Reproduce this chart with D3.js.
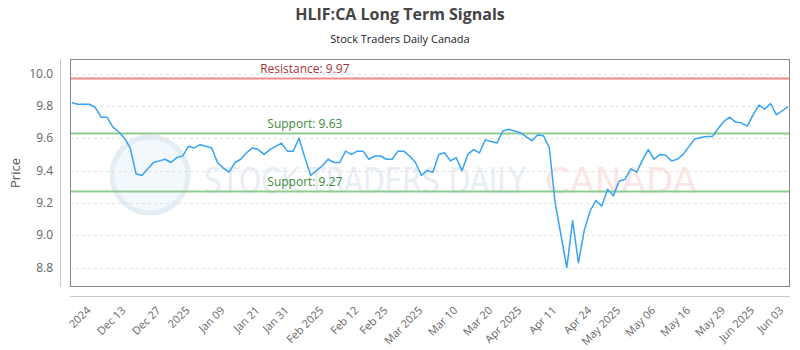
<!DOCTYPE html>
<html>
<head>
<meta charset="utf-8">
<script src="https://cdn.jsdelivr.net/npm/d3@7"></script>
<style>
  body { margin: 0; background: #fff; }
  svg { display: block; font-family: 'Open Sans', 'Noto Sans', sans-serif; }
</style>
</head>
<body>
<svg id="chart" width="800" height="350"></svg>
<script>
// daily closes
const prices = [
  9.82, 9.81, 9.81, 9.81, 9.79, 9.73, 9.73, 9.67, 9.64, 9.60,
  9.54, 9.38, 9.37, 9.41, 9.45, 9.46, 9.47, 9.45, 9.48, 9.49,
  9.55, 9.54, 9.56, 9.55, 9.54, 9.45, 9.415, 9.39, 9.45, 9.47,
  9.51, 9.54, 9.53, 9.50, 9.53, 9.55, 9.57, 9.52, 9.52, 9.60,
  9.48, 9.37, 9.40, 9.43, 9.47, 9.45, 9.45, 9.52, 9.50, 9.52,
  9.52, 9.47, 9.49, 9.49, 9.47, 9.47, 9.52, 9.52, 9.49, 9.45,
  9.37, 9.40, 9.39, 9.50, 9.51, 9.46, 9.48, 9.40, 9.50, 9.53,
  9.51, 9.59, 9.58, 9.57, 9.645, 9.655, 9.645, 9.635, 9.61, 9.585,
  9.62, 9.615, 9.54, 9.20, 9.00, 8.80, 9.09, 8.83, 9.03, 9.15,
  9.215, 9.18, 9.285, 9.245, 9.335, 9.345, 9.41, 9.39, 9.465, 9.53,
  9.47, 9.50, 9.495, 9.46, 9.47, 9.50, 9.55, 9.595, 9.605, 9.61,
  9.61, 9.66, 9.705, 9.73, 9.70, 9.695, 9.675, 9.745, 9.805, 9.78,
  9.815, 9.745, 9.77, 9.795
];

const tickIndex = [3, 9, 15, 20, 26, 32, 37, 43, 49, 54, 60, 66, 72, 77, 83, 89, 94, 100, 106, 112, 117, 122];
const tickLabels = [
  '2024', 'Dec 13', 'Dec 27', '2025', 'Jan 09', 'Jan 21', 'Jan 31', 'Feb 2025',
  'Feb 12', 'Feb 25', 'Mar 2025', 'Mar 10', 'Mar 20', 'Apr 2025', 'Apr 11',
  'Apr 24', 'May 2025', 'May 06', 'May 16', 'May 29', 'Jun 2025', 'Jun 03'
];
const yTicks = [8.8, 9.0, 9.2, 9.4, 9.6, 9.8, 10.0];

const levels = [
  { name: 'Resistance', value: 9.97, line: '#ee8a8a', text: '#a53535' },
  { name: 'Support', value: 9.63, line: '#8fcb8f', text: '#3b8a3b' },
  { name: 'Support', value: 9.27, line: '#8fcb8f', text: '#3b8a3b' }
];

const margin = { top: 59, right: 10, bottom: 63, left: 70 },
  width = 800,
  height = 350;

const svg = d3.select('#chart');

const x = d3
  .scaleLinear()
  .domain([0, prices.length - 1])
  .range([margin.left + 2, width - margin.right - 2]);

const y = d3
  .scaleLinear()
  .domain([8.68, 10.09])
  .range([height - margin.bottom, margin.top]);

// watermark
const wm = svg.append('g').attr('class', 'watermark');
wm.append('circle')
  .attr('cx', 150).attr('cy', 175).attr('r', 38)
  .attr('fill', '#f3f8fc').attr('stroke', '#e3edf4').attr('stroke-width', 5);
wm.append('text')
  .attr('x', 204).attr('y', 193)
  .attr('textLength', 322).attr('lengthAdjust', 'spacingAndGlyphs')
  .attr('fill', '#e8eef3')
  .style('font-family', 'DejaVu Sans Condensed, sans-serif')
  .style('font-size', '35px')
  .text('STOCK TRADERS DAILY');
wm.append('text')
  .attr('x', 545).attr('y', 193)
  .attr('textLength', 152).attr('lengthAdjust', 'spacingAndGlyphs')
  .attr('fill', '#fbe6e6')
  .style('font-family', 'DejaVu Sans, sans-serif')
  .style('font-size', '35px')
  .text('CANADA');

// grid
svg
  .append('g')
  .selectAll('line')
  .data(yTicks)
  .join('line')
  .attr('x1', margin.left)
  .attr('x2', width - margin.right)
  .attr('y1', d => Math.round(y(d)) + 0.5)
  .attr('y2', d => Math.round(y(d)) + 0.5)
  .attr('stroke', '#e2e2e2')
  .attr('stroke-dasharray', '3,3');

// y axis
svg
  .append('line')
  .attr('x1', 60.5).attr('x2', 60.5)
  .attr('y1', margin.top).attr('y2', height - margin.bottom)
  .attr('stroke', '#c8c8c8');

svg
  .append('g')
  .selectAll('text')
  .data(yTicks)
  .join('text')
  .attr('x', 53)
  .attr('y', d => y(d))
  .attr('dy', '0.35em')
  .attr('text-anchor', 'end')
  .attr('fill', '#666')
  .style('font-size', '12px')
  .text(d => d.toFixed(1));

svg
  .append('text')
  .attr('transform', `translate(20,${(margin.top + height - margin.bottom) / 2}) rotate(-90)`)
  .attr('text-anchor', 'middle')
  .attr('fill', '#555')
  .style('font-size', '13px')
  .text('Price');

// x axis
svg
  .append('line')
  .attr('x1', margin.left).attr('x2', width - margin.right)
  .attr('y1', 296.5).attr('y2', 296.5)
  .attr('stroke', '#c8c8c8');

svg
  .append('g')
  .selectAll('text')
  .data(tickIndex)
  .join('text')
  .attr('transform', d => `translate(${x(d) + 2},${311}) rotate(-45)`)
  .attr('text-anchor', 'end')
  .attr('fill', '#666')
  .style('font-size', '11px')
  .text((d, i) => tickLabels[i]);

// levels
svg
  .append('g')
  .selectAll('line')
  .data(levels)
  .join('line')
  .attr('x1', margin.left)
  .attr('x2', width - margin.right)
  .attr('y1', d => y(d.value))
  .attr('y2', d => y(d.value))
  .attr('stroke', d => d.line)
  .attr('stroke-width', 2);

svg
  .append('g')
  .selectAll('text')
  .data(levels)
  .join('text')
  .attr('x', x(40))
  .attr('y', d => y(d.value) - 5.5)
  .attr('text-anchor', 'middle')
  .attr('fill', d => d.text)
  .style('font-size', '12px')
  .text(d => `${d.name}: ${d.value.toFixed(2)}`);

// price line
const line = d3
  .line()
  .x((d, i) => x(i))
  .y(d => y(d));

svg
  .append('path')
  .datum(prices)
  .attr('fill', 'none')
  .attr('stroke', '#37a3f4')
  .attr('stroke-width', 1.5)
  .attr('stroke-linejoin', 'round')
  .attr('d', line);

// frame
svg
  .append('rect')
  .attr('x', margin.left + 0.5)
  .attr('y', margin.top + 0.5)
  .attr('width', width - margin.left - margin.right - 1)
  .attr('height', height - margin.top - margin.bottom - 1)
  .attr('fill', 'none')
  .attr('stroke', '#888');

// titles
svg
  .append('text')
  .attr('x', width / 2)
  .attr('y', 20)
  .attr('text-anchor', 'middle')
  .attr('fill', '#444')
  .style('font-size', '16px')
  .style('font-weight', 'bold')
  .text('HLIF:CA Long Term Signals');

svg
  .append('text')
  .attr('x', width / 2)
  .attr('y', 43)
  .attr('text-anchor', 'middle')
  .attr('fill', '#222')
  .style('font-size', '11px')
  .text('Stock Traders Daily Canada');
</script>
</body>
</html>
